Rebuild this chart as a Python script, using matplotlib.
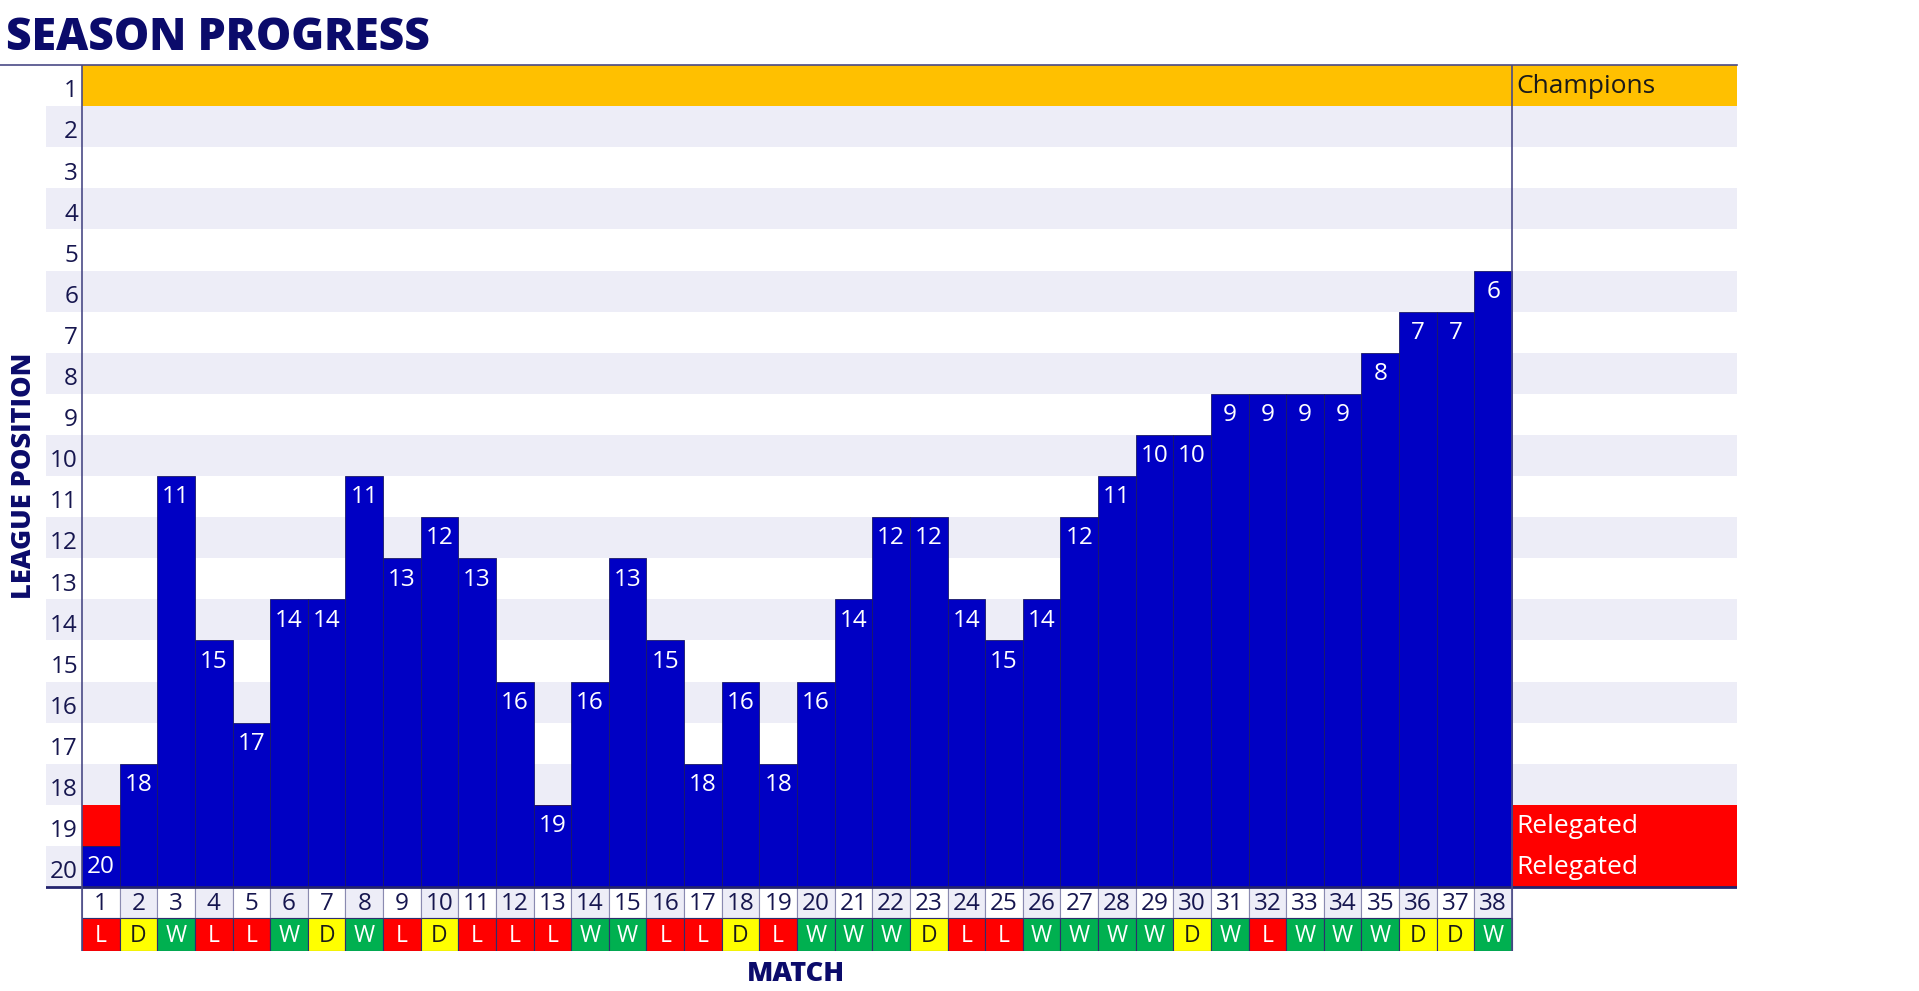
import matplotlib.pyplot as plt
import numpy as np

plt.rcParams['font.family'] = ['Open Sans', 'DejaVu Sans']

# Data
matches = list(range(1, 39))
positions = [20, 18, 11, 15, 17, 14, 14, 11, 13, 12, 13, 16, 19, 16, 13, 15, 18, 16, 18,
             16, 14, 12, 12, 14, 15, 14, 12, 11, 10, 10, 9, 9, 9, 9, 8, 7, 7, 6]
results = ['L', 'D', 'W', 'L', 'L', 'W', 'D', 'W', 'L', 'D', 'L', 'L', 'L', 'W', 'W', 'L',
           'L', 'D', 'L', 'W', 'W', 'W', 'D', 'L', 'L', 'W', 'W', 'W', 'W', 'D', 'W', 'L',
           'W', 'W', 'W', 'D', 'D', 'W']
league_rows = list(range(1, 21))
zone_labels = {1: 'Champions', 19: 'Relegated', 20: 'Relegated'}

# Colours
BAR = '#0000C4'
LAV = '#EDEDF7'
GOLD = '#FFC000'
RED = '#FF0000'
GREEN = '#00B050'
YELLOW = '#FFFF00'
NAVY = '#0B0B6B'
TXT = '#16164F'
LINE = '#4A4A86'
res_colors = {'W': GREEN, 'L': RED, 'D': YELLOW}
res_text = {'W': 'white', 'L': 'white', 'D': '#1A1A1A'}

W, H = 1919, 991
fig = plt.figure(figsize=(W / 100, H / 100), dpi=100)

# axes pixel frame
px_left, px_right, px_top, px_bot = 46, 1737, 65, 951
col_w = (1512 - 82) / 38
row_h = (887 - 65) / 20
x0 = 0.5 - (82 - px_left) / col_w
x1 = 38.5 + (px_right - 1512) / col_w
y_match_top = 20.5
y_res_top = 20.5 + (918 - 887) / row_h
y_end = 0.5 + (px_bot - px_top) / row_h

ax = fig.add_axes([px_left / W, 1 - px_bot / H, (px_right - px_left) / W, (px_bot - px_top) / H])
ax.set_xlim(x0, x1)
ax.set_ylim(y_end, 0.5)
ax.axis('off')

# background stripes
for r in league_rows:
    if r % 2 == 0:
        ax.axhspan(r - 0.5, r + 0.5, color=LAV, lw=0, zorder=0)
ax.fill_between([0.5, x1], 0.5, 1.5, color=GOLD, lw=0, zorder=0.5)
ax.fill_between([0.5, x1], 18.5, 20.5, color=RED, lw=0, zorder=0.5)

# bars
pos = np.array(positions)
ax.bar(matches, 20.5 - (pos - 0.5), bottom=pos - 0.5, width=1, color=BAR,
       edgecolor='#1B1B66', linewidth=0.6, zorder=2)
for m, p in zip(matches, positions):
    ax.text(m, p + 0.02, str(p), ha='center', va='center', color='white', fontsize=17.5, zorder=3)

# y tick labels
for r in league_rows:
    ax.text(0.5 - 4 / col_w, r + 0.14, str(r), ha='right', va='center', color=TXT, fontsize=17.5)

# match number row and result row
for m, res in zip(matches, results):
    bg = LAV if m % 2 == 0 else 'white'
    ax.bar(m, y_res_top - y_match_top, bottom=y_match_top, width=1, color=bg,
           edgecolor='#8A8AB0', linewidth=0.8, zorder=1)
    ax.bar(m, y_end - y_res_top, bottom=y_res_top, width=1, color=res_colors[res],
           edgecolor='#2E2E6E', linewidth=0.8, zorder=1)
    ax.text(m, (y_match_top + y_res_top) / 2 + 0.03, str(m), ha='center', va='center',
            color=TXT, fontsize=17.5, zorder=3)
    ax.text(m, (y_res_top + y_end) / 2 + 0.03, res, ha='center', va='center',
            color=res_text[res], fontsize=16.5, zorder=3)

# zone labels on the right
for r, lab in zone_labels.items():
    ax.text(38.5 + 4 / col_w, r + 0.02, lab, ha='left', va='center',
            color='#1A1A1A' if r == 1 else 'white', fontsize=19, zorder=3)

# frame lines
ax.plot([0.5 - 82 / col_w, x1], [0.5, 0.5], color=LINE, lw=1.2, clip_on=False, zorder=4)
ax.plot([x0, x1], [20.5, 20.5], color='#23236E', lw=2, zorder=4)
ax.plot([0.5, 0.5], [0.5, y_end], color=LINE, lw=1.2, zorder=4)
ax.plot([38.5, 38.5], [0.5, y_end], color=LINE, lw=1.2, zorder=4)

# titles
fig.text(6 / W, 1 - 39 / H, 'SEASON PROGRESS', ha='left', va='center', color=NAVY,
         fontsize=32, fontweight=800)
fig.text(796 / W, 1 - 974 / H, 'MATCH', ha='center', va='center', color=NAVY,
         fontsize=19.5, fontweight=800)
fig.text(24 / W, 1 - 476 / H, 'LEAGUE POSITION', ha='center', va='center', color=NAVY,
         fontsize=19.5, fontweight=800, rotation=90)

fig.savefig('out.png', dpi=100, facecolor='white')
